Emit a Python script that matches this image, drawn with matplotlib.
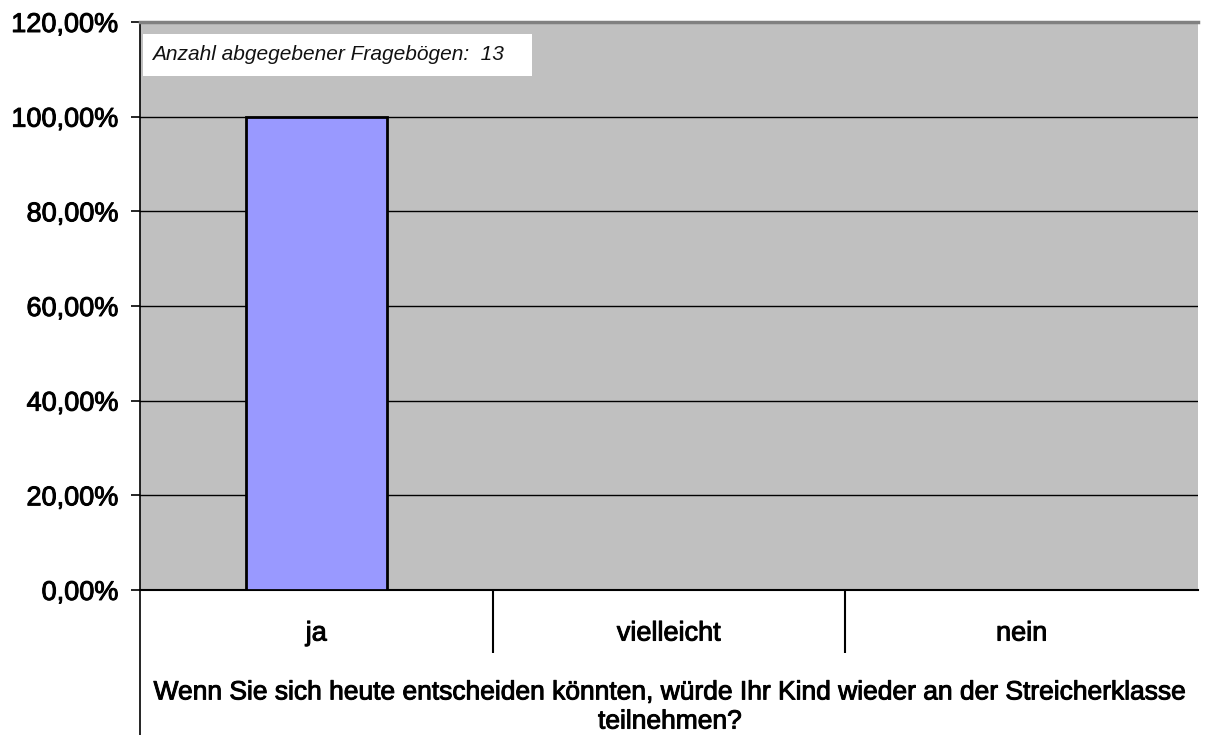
import matplotlib
matplotlib.use("Agg")
import matplotlib.pyplot as plt
import matplotlib.patheffects as pe
from matplotlib.ticker import FixedLocator
from matplotlib.patches import Rectangle

categories = ["ja", "vielleicht", "nein"]
values = [1.0, 0.0, 0.0]
yticks = [0.0, 0.2, 0.4, 0.6, 0.8, 1.0, 1.2]
ytick_labels = ["0,00%", "20,00%", "40,00%", "60,00%", "80,00%", "100,00%", "120,00%"]
xlabel = "Wenn Sie sich heute entscheiden könnten, würde Ihr Kind wieder an der Streicherklasse\nteilnehmen?"
note = "Anzahl abgegebener Fragebögen:  13"

plt.rcParams['font.family'] = ['Liberation Sans', 'DejaVu Sans']
thick = [pe.withStroke(linewidth=0.7, foreground="black")]

W, H = 1208, 735
fig = plt.figure(figsize=(W / 100, H / 100), dpi=100)
left, right, top, bottom = 140, 1198, 22, 590
aw, ah = right - left, bottom - top
ax = fig.add_axes([left / W, 1 - bottom / H, aw / W, ah / H])
ax.set_facecolor("#C0C0C0")

x = list(range(len(categories)))
ax.bar(x, values, width=0.4, color="#9999FF", edgecolor="black", linewidth=2, zorder=3)

ax.set_xlim(-0.5, len(categories) - 0.5)
ax.set_ylim(0, 1.2)
ax.set_yticks(yticks)
ax.set_yticklabels(ytick_labels, fontsize=19.5)
for yv in yticks[1:-1]:
    ax.axhline(yv, color="black", linewidth=1, zorder=1)

ax.set_xticks(x)
ax.set_xticklabels(categories, fontsize=19.5)
ax.tick_params(axis="x", which="major", length=0, pad=22)
ax.xaxis.set_minor_locator(FixedLocator([0.5, 1.5]))
ax.tick_params(axis="x", which="minor", length=45, width=1.5, direction="out", color="black")
ax.tick_params(axis="y", length=6.5, width=1.2, direction="out", pad=9)
for lab in ax.get_xticklabels() + ax.get_yticklabels():
    lab.set_path_effects(thick)

ax.spines["right"].set_visible(False)
ax.spines["top"].set_color("#808080")
ax.spines["top"].set_linewidth(2.5)
ax.spines["bottom"].set_color("black")
ax.spines["bottom"].set_linewidth(1.5)
ax.spines["left"].set_color("black")
ax.spines["left"].set_linewidth(1.2)

# extend left axis line down to the bottom of the figure
ax.plot([0, 0], [0, -(H - bottom) / ah], transform=ax.transAxes,
        color="black", linewidth=1.2, clip_on=False)

ax.text((670 - left) / aw, -(707 - bottom) / ah, xlabel, transform=ax.transAxes,
        ha="center", va="center", fontsize=19, linespacing=1.27, path_effects=thick)

ax.add_patch(Rectangle((3 / aw, (bottom - 76) / ah), 389 / aw, 42 / ah,
                       transform=ax.transAxes, facecolor="white", edgecolor="none", zorder=5))
ax.text(12 / aw, (bottom - 55) / ah, note, transform=ax.transAxes, ha="left", va="center",
        fontsize=15, style="italic", color="#111111", zorder=6)

fig.savefig("out.png", dpi=100)
